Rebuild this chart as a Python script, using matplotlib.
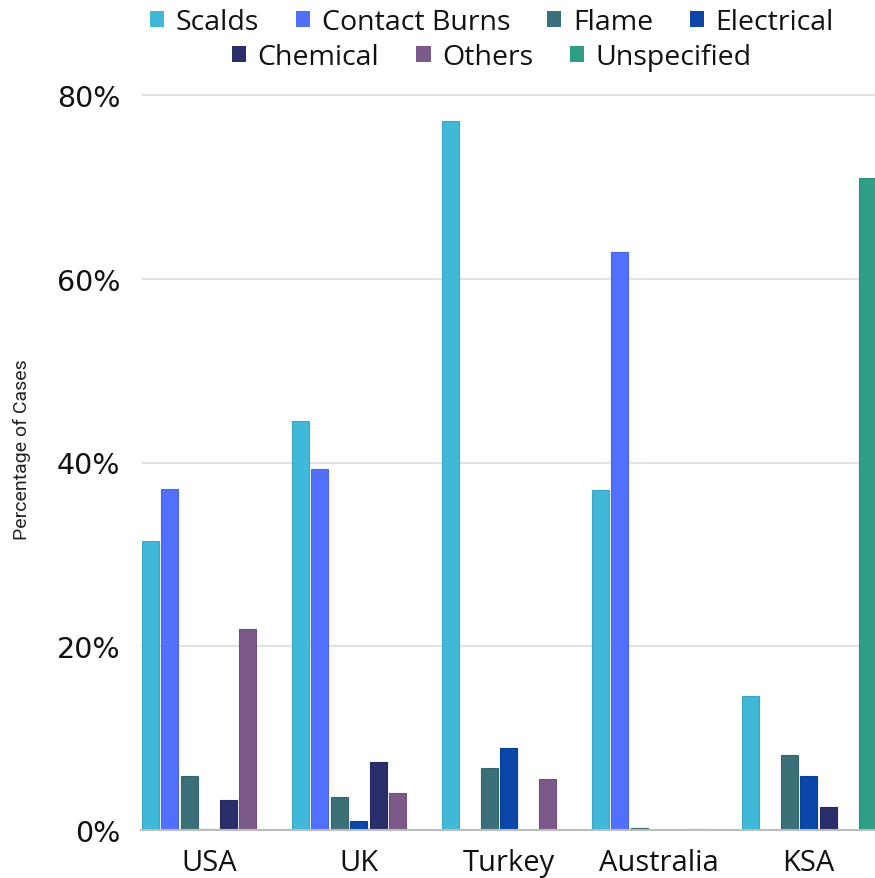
import matplotlib
matplotlib.use("Agg")
import matplotlib.pyplot as plt
from matplotlib.patches import Patch
import numpy as np

countries = ["USA", "UK", "Turkey", "Australia", "KSA"]
series = ["Scalds", "Contact Burns", "Flame", "Electrical", "Chemical", "Others", "Unspecified"]

scalds = [31.5, 44.5, 77.2, 37.0, 14.6]
contact_burns = [37.1, 39.3, 0.0, 62.9, 0.0]
flame = [5.9, 3.6, 6.7, 0.2, 8.2]
electrical = [0.1, 1.0, 8.9, 0.0, 5.9]
chemical = [3.3, 7.4, 0.0, 0.0, 2.5]
others = [21.9, 4.0, 5.6, 0.1, 0.0]
unspecified = [0.0, 0.0, 0.0, 0.0, 71.0]

values = [scalds, contact_burns, flame, electrical, chemical, others, unspecified]
colors = ["#40B8D8", "#5170FF", "#3B7078", "#0A47A9", "#2A2F6B", "#7B5A89", "#2F9E86"]
edges = ["#3AA6C4", "#4A66E6", "#35656C", "#093F96", "#25295E", "#6F517C", "#2A8F79"]

W, H = 875, 879
fig = plt.figure(figsize=(W / 100, H / 100), dpi=100)

ymax = 80.5
px_per_unit = (831 - 96) / 80
ax = fig.add_axes([141 / W, 48 / H, 1 - 141 / W, ymax * px_per_unit / H])

x = np.arange(len(countries))
slot = 0.13
bw = 0.113
for j, (name, vals) in enumerate(zip(series, values)):
    ax.bar(x + (j - 3) * slot, vals, width=bw, color=colors[j],
           edgecolor=edges[j], linewidth=0.8, label=name, zorder=3)

ax.set_xlim(-0.4513, 4.442)
ax.set_ylim(0, ymax)
ax.set_yticks([0, 20, 40, 60, 80])
ax.set_yticklabels(["0%", "20%", "40%", "60%", "80%"], fontsize=20.5,
                   family="DejaVu Sans", color="#111111")
ax.set_xticks(x)
ax.set_xticklabels(countries, fontsize=21, family="Open Sans", color="#111111")
ax.tick_params(axis="both", length=0)
ax.tick_params(axis="y", pad=15)
ax.tick_params(axis="x", pad=13)
ax.grid(axis="y", color="#E2E2E2", linewidth=1.5, zorder=0)
for s in ["top", "right", "left"]:
    ax.spines[s].set_visible(False)
ax.spines["bottom"].set_color("#BDBDBD")
ax.spines["bottom"].set_linewidth(1.5)
ax.spines["bottom"].set_zorder(4)

fig.text(22 / W, 1 - 450 / H, "Percentage of Cases", rotation=90, fontsize=14,
         family="Roboto", color="#222222", ha="center", va="center")

handles = [Patch(facecolor=c, edgecolor="none") for c in colors]
common = dict(frameon=False, handlelength=0.5, handleheight=0.5,
              handletextpad=0.4, columnspacing=1.3,
              prop={"family": "Open Sans", "size": 20.5})
leg1 = fig.legend(handles[:4], series[:4], ncol=4, loc="center",
                  bbox_to_anchor=(492 / W, 1 - 23 / H), **common)
leg2 = fig.legend(handles[4:], series[4:], ncol=3, loc="center",
                  bbox_to_anchor=(492 / W, 1 - 58 / H), **common)
for leg in (leg1, leg2):
    for t in leg.get_texts():
        t.set_color("#111111")

fig.savefig("out.png", dpi=100)
